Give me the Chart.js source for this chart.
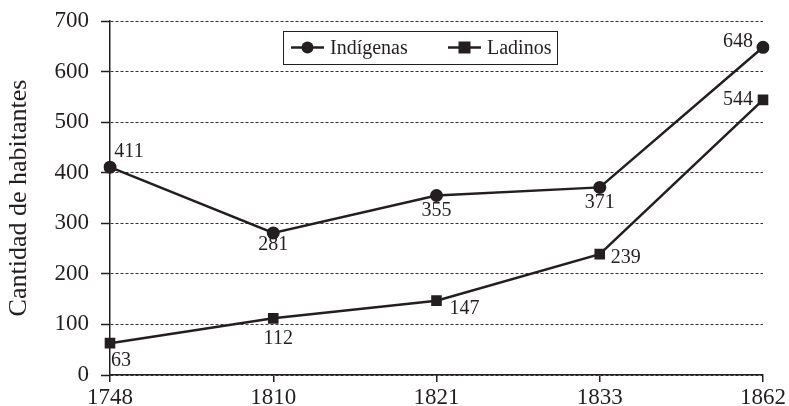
<!DOCTYPE html>
<html><head><meta charset="utf-8">
<script src="https://cdn.jsdelivr.net/npm/chart.js@4/dist/chart.umd.min.js"></script>
<style>html,body{margin:0;padding:0;background:#fff}#wrap{width:789px;height:406px}</style>
</head><body><div id="wrap"><canvas id="c" width="789" height="406"></canvas></div>
<script>
const categories = ['1748','1810','1821','1833','1862'];
const indigenas = [411, 281, 355, 371, 648];
const ladinos = [63, 112, 147, 239, 544];
const yTicks = [0,100,200,300,400,500,600,700];
const seriesNames = ['Indígenas','Ladinos'];
const FONT = "'Liberation Serif', 'DejaVu Serif', serif";
const INK = '#231f20';

// label offsets (dx, dy) relative to point, for each series
const labelOffsets = [
  [[19,-15],[0,12],[0,15],[0,15],[-25,-6]],
  [[11,18],[5,20],[28,8],[26,4],[-25,0]]
];

const labelPlugin = {
  id: 'labels',
  afterDatasetsDraw(chart) {
    const ctx = chart.ctx;
    ctx.save();
    ctx.font = "20px " + FONT;
    ctx.fillStyle = INK;
    ctx.textAlign = 'center';
    ctx.textBaseline = 'middle';
    chart.data.datasets.forEach((ds, di) => {
      const meta = chart.getDatasetMeta(di);
      meta.data.forEach((pt, i) => {
        const o = labelOffsets[di][i];
        ctx.fillText(String(ds.data[i]), pt.x + o[0], pt.y + o[1]);
      });
    });
    ctx.restore();
  }
};

const legendPlugin = {
  id: 'customLegend',
  afterDraw(chart) {
    const ctx = chart.ctx, a = chart.chartArea;
    const x0 = a.left + 173, y0 = a.top + 10, w = 274, h = 33;
    ctx.save();
    ctx.fillStyle = '#fff';
    ctx.fillRect(x0, y0, w, h);
    ctx.strokeStyle = INK; ctx.lineWidth = 1;
    ctx.strokeRect(x0 + 0.5, y0 + 0.5, w, h);
    const cy = y0 + h / 2;
    ctx.font = "20px " + FONT;
    ctx.textBaseline = 'middle';
    ctx.textAlign = 'left';
    const items = [{lx: x0 + 8, style: 'circle'}, {lx: x0 + 165, style: 'rect'}];
    items.forEach((it, i) => {
      ctx.strokeStyle = INK; ctx.lineWidth = 2.5;
      ctx.beginPath(); ctx.moveTo(it.lx, cy); ctx.lineTo(it.lx + 33, cy); ctx.stroke();
      ctx.fillStyle = INK;
      const mx = it.lx + 16.5;
      if (it.style === 'circle') { ctx.beginPath(); ctx.arc(mx, cy, 6, 0, Math.PI * 2); ctx.fill(); }
      else { ctx.fillRect(mx - 6, cy - 6, 12, 12); }
      ctx.fillText(seriesNames[i], it.lx + 39, cy + 1);
    });
    ctx.restore();
  }
};

new Chart(document.getElementById('c'), {
  type: 'line',
  data: {
    labels: categories,
    datasets: [
      { label: seriesNames[0], data: indigenas, borderColor: INK, backgroundColor: INK, borderWidth: 2.5,
        pointStyle: 'circle', pointRadius: 6.5, pointBorderWidth: 0, tension: 0 },
      { label: seriesNames[1], data: ladinos, borderColor: INK, backgroundColor: INK, borderWidth: 2.5,
        pointStyle: 'rect', pointRadius: 7.5, pointBorderWidth: 0, tension: 0 }
    ]
  },
  options: {
    responsive: false, animation: false,
    layout: { padding: { top: 21, right: 26, left: 0, bottom: 0 } },
    plugins: { legend: { display: false }, tooltip: { enabled: false } },
    scales: {
      x: {
        offset: false,
        grid: { display: true, drawOnChartArea: false, drawTicks: true, tickLength: 7, color: INK, lineWidth: 1.5 },
        border: { display: true, color: INK, width: 1.5 },
        ticks: { color: INK, font: { family: FONT, size: 23 }, padding: 2, maxRotation: 0 },
        afterFit: s => { s.height = 31; }
      },
      y: {
        min: 0, max: 700,
        afterBuildTicks: s => { s.ticks = yTicks.map(v => ({ value: v })); },
        grid: { display: true, drawTicks: true, tickLength: 9, color: '#333', lineWidth: 1,
                tickColor: INK, tickWidth: 1.5, tickBorderDash: [] },
        border: { display: true, color: INK, width: 1.5, dash: [3, 2] },
        ticks: { color: INK, font: { family: FONT, size: 23 }, padding: 12 },
        title: { display: true, text: 'Cantidad de habitantes', color: INK, font: { family: FONT, size: 26 }, padding: { top: 4, bottom: 0 } },
        afterFit: s => { s.width = 110; s.paddingTop = 0; s.paddingBottom = 0; }
      }
    }
  },
  plugins: [labelPlugin, legendPlugin]
});
</script></body></html>
